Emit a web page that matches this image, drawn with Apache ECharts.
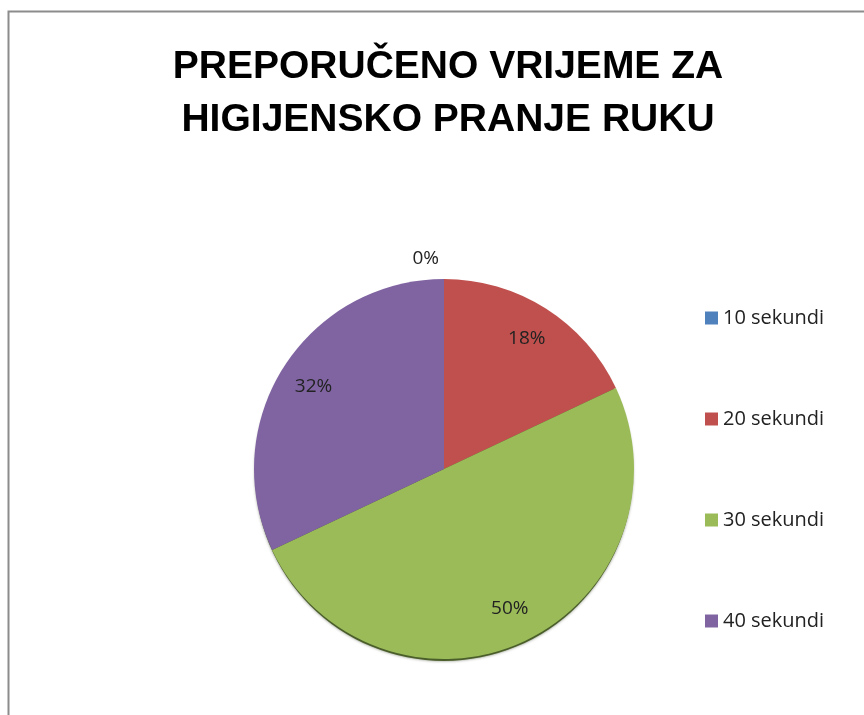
<!DOCTYPE html>
<html>
<head>
<meta charset="utf-8">
<script src="https://cdn.jsdelivr.net/npm/echarts@6/dist/echarts.min.js"></script>
<style>
  html, body { margin: 0; padding: 0; background: #fff; }
  #chart { width: 864px; height: 715px; }
</style>
</head>
<body>
<div id="chart"></div>
<script>
var titleText = 'PREPORUČENO VRIJEME ZA\nHIGIJENSKO PRANJE RUKU';
var categories = ['10 sekundi', '20 sekundi', '30 sekundi', '40 sekundi'];
var values = [0, 18, 50, 32];
var colors = ['#4F81BD', '#C0504D', '#9BBB59', '#8064A2'];

var myChart = echarts.init(document.getElementById('chart'));

// glavni krug (bez oznaka)
var pieData = categories.map(function (name, i) {
  return { name: name, value: values[i], itemStyle: { color: colors[i] } };
});

// prozirni prsten samo za postotke (da budu bliže rubu)
var labelData = categories.map(function (name, i) {
  var d = { name: name, value: values[i] };
  if (values[i] === 0) {
    d.label = { position: 'outside' };
  }
  return d;
});

var option = {
  backgroundColor: '#fff',
  color: colors,
  title: {
    text: titleText,
    left: 443,
    textAlign: 'center',
    top: 36,
    textStyle: {
      fontFamily: 'Liberation Sans',
      fontWeight: 'bold',
      fontSize: 39,
      lineHeight: 53,
      color: '#000'
    }
  },
  legend: {
    orient: 'vertical',
    left: 700,
    top: 303,
    itemWidth: 13,
    itemHeight: 13,
    itemGap: 81,
    icon: 'rect',
    data: categories,
    textStyle: { fontFamily: 'Open Sans', fontSize: 20, color: '#222' }
  },
  graphic: [{
    type: 'rect',
    shape: { x: 8.5, y: 11.5, width: 900, height: 800 },
    style: { fill: 'none', stroke: '#8c8c8c', lineWidth: 2 },
    silent: true
  }],
  series: [
    {
      // sjena ispod kruga
      name: 'shadow',
      type: 'pie',
      center: [444, 472],
      radius: [0, 189],
      animation: false,
      silent: true,
      legendHoverLink: false,
      label: { show: false },
      labelLine: { show: false },
      itemStyle: {
        color: '#4a5e2a',
        shadowBlur: 3,
        shadowColor: 'rgba(40,50,20,0.6)'
      },
      data: [{ name: 'shadow', value: 1 }]
    },
    {
      name: 'pie',
      type: 'pie',
      center: [444, 469],
      radius: [0, 190],
      startAngle: 90,
      clockwise: true,
      animation: false,
      label: { show: false },
      labelLine: { show: false },
      data: pieData
    },
    {
      name: 'labels',
      type: 'pie',
      center: [444, 469],
      radius: [113, 190],
      startAngle: 90,
      clockwise: true,
      animation: false,
      silent: true,
      legendHoverLink: false,
      itemStyle: { color: 'rgba(0,0,0,0)' },
      label: {
        position: 'inside',
        formatter: '{c}%',
        fontFamily: 'Open Sans',
        fontSize: 19,
        color: '#222'
      },
      labelLine: { show: false, length: 20, length2: 0 },
      data: labelData
    }
  ]
};

myChart.setOption(option);
</script>
</body>
</html>
